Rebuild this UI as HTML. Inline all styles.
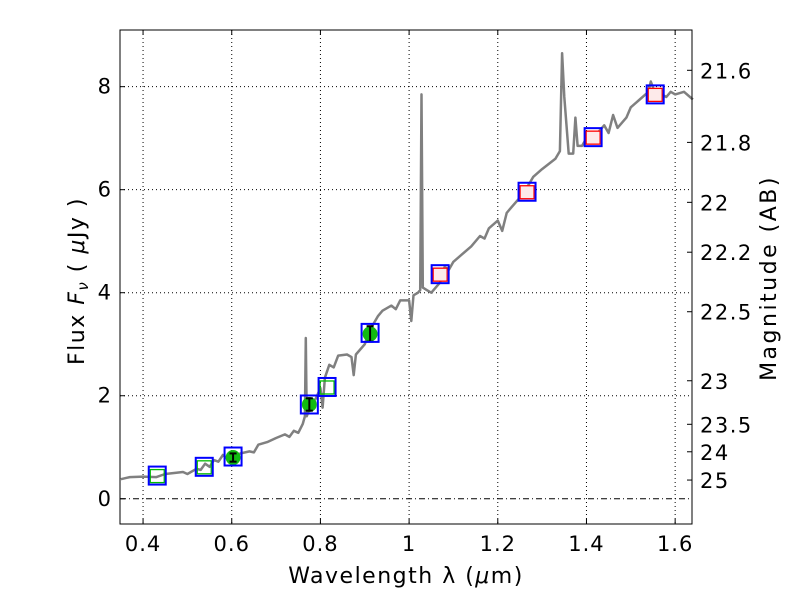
<!DOCTYPE html>
<html><head><meta charset="utf-8"><style>
body{margin:0;background:#fff}
svg text{font-family:"DejaVu Sans","Liberation Sans",sans-serif;fill:#000}
</style></head><body>
<svg id="c" width="800" height="600" xmlns="http://www.w3.org/2000/svg"></svg>
<script>
const specWave=[0.35,0.37,0.40,0.43,0.45,0.47,0.49,0.50,0.52,0.53,0.54,0.55,0.56,0.57,0.58,0.59,0.60,0.62,0.64,0.65,0.66,0.68,0.70,0.72,0.73,0.74,0.75,0.76,0.765,0.767,0.769,0.78,0.79,0.80,0.805,0.81,0.82,0.83,0.84,0.86,0.87,0.875,0.88,0.90,0.91,0.92,0.93,0.94,0.96,0.97,0.98,1.00,1.005,1.01,1.02,1.025,1.028,1.031,1.04,1.05,1.06,1.07,1.08,1.09,1.10,1.12,1.14,1.16,1.17,1.18,1.20,1.21,1.22,1.23,1.25,1.27,1.28,1.30,1.33,1.34,1.345,1.35,1.36,1.37,1.375,1.38,1.39,1.40,1.42,1.44,1.45,1.46,1.47,1.49,1.50,1.52,1.54,1.545,1.56,1.57,1.58,1.59,1.60,1.62,1.64];
const specFlux=[0.38,0.42,0.43,0.42,0.48,0.50,0.52,0.48,0.58,0.56,0.68,0.62,0.75,0.72,0.85,0.78,0.82,0.88,0.92,0.90,1.05,1.10,1.18,1.25,1.20,1.32,1.28,1.45,1.60,3.12,1.60,1.85,1.95,2.15,1.77,2.35,2.60,2.55,2.78,2.80,2.75,2.40,2.80,3.00,3.25,3.40,3.55,3.65,3.75,3.68,3.85,3.85,3.45,3.95,4.00,4.05,7.85,4.10,4.05,4.00,4.10,4.20,4.50,4.45,4.60,4.75,4.90,5.10,5.05,5.25,5.40,5.20,5.55,5.65,5.85,6.10,6.25,6.40,6.60,6.75,8.65,7.80,6.70,6.70,7.40,6.85,6.85,7.00,7.05,7.25,7.10,7.45,7.20,7.40,7.60,7.75,7.90,8.10,7.75,7.85,7.80,7.90,7.85,7.90,7.75];
const photWave=[0.432,0.538,0.603,0.775,0.815,0.912,1.07,1.266,1.415,1.555];
const photFlux=[0.45,0.64,0.80,1.83,2.19,3.20,4.39,5.98,7.05,7.88];
const modelFlux=[0.45,0.62,0.82,1.83,2.17,3.22,4.36,5.96,7.02,7.85];
const obsFlag=[0,0,1,1,0,1,0,0,0,0];
const photErr=[0,0,0.08,0.12,0,0.15,0,0,0,0];
const xTicks=[0.4,0.6,0.8,1,1.2,1.4,1.6];
const xTickLabels=["0.4","0.6","0.8","1","1.2","1.4","1.6"];
const yTicks=[0,2,4,6,8];
const magTicks=[21.6,21.8,22,22.2,22.5,23,23.5,24,25];
const magLabels=["21.6","21.8","22","22.2","22.5","23","23.5","24","25"];

const L=120,R=692,T=30,B=524,x0=0.348,x1=1.638,y0=-0.49,y1=9.1;
const X=v=>L+(v-x0)/(x1-x0)*(R-L);
const Y=v=>B-(v-y0)/(y1-y0)*(B-T);
const svg=document.getElementById('c');
const NS="http://www.w3.org/2000/svg";
function mk(t,a,p){const e=document.createElementNS(NS,t);for(const k in a)e.setAttribute(k,a[k]);(p||svg).appendChild(e);return e;}

xTicks.forEach(v=>{const g=mk('line',{x1:X(v),x2:X(v),y1:T,y2:B,stroke:'#000','stroke-width':1,'stroke-dasharray':'1,3'});

});
yTicks.forEach(v=>{if(v===0)return;const g=mk('line',{x1:L,x2:R,y1:Y(v),y2:Y(v),stroke:'#000','stroke-width':1,'stroke-dasharray':'1,3'});

});
const zl=mk('line',{x1:L,x2:R,y1:Y(0),y2:Y(0),stroke:'#000','stroke-width':1,'stroke-dasharray':'6,3,1,3'});



const pts=specWave.map((w,i)=>X(w).toFixed(1)+','+Y(specFlux[i]).toFixed(1)).join(' ');
const sp=mk('polyline',{points:pts,fill:'none',stroke:'#808080','stroke-width':2.5,'stroke-linejoin':'round'});



photWave.forEach((w,i)=>{
  const cx=X(w),cy=Y(photFlux[i]),my=Y(modelFlux[i]);
  const g=mk('g',{});
  
  
  if(i>=6){mk('rect',{x:cx-7,y:my-6,width:14,height:13,fill:'#fdeaea',stroke:'#f00','stroke-width':1.3},g);}
  else if(!obsFlag[i]){mk('rect',{x:cx-7,y:my-6,width:14,height:13,fill:'none',stroke:'#0b0','stroke-width':1.3},g);}
  else{
    mk('circle',{cx:cx,cy:cy,r:7.5,fill:'#11bb11'},g);
    const e=Math.max(2,(Y(0)-Y(photErr[i])));
    mk('line',{x1:cx,x2:cx,y1:cy-e,y2:cy+e,stroke:'#000','stroke-width':2},g);
    mk('line',{x1:cx-3.5,x2:cx+3.5,y1:cy-e,y2:cy-e,stroke:'#000','stroke-width':2},g);
    mk('line',{x1:cx-3.5,x2:cx+3.5,y1:cy+e,y2:cy+e,stroke:'#000','stroke-width':2},g);
  }
  mk('rect',{x:cx-8.5,y:my-9,width:17,height:18,fill:'none',stroke:'#00f','stroke-width':2},g);
});

const fr=mk('rect',{x:L,y:T,width:R-L,height:B-T,fill:'none',stroke:'#000','stroke-width':1});



xTicks.forEach((v,i)=>{
  mk('line',{x1:X(v),x2:X(v),y1:B,y2:B-5,stroke:'#000'});
  mk('line',{x1:X(v),x2:X(v),y1:T,y2:T+5,stroke:'#000'});
  const t=mk('text',{x:X(v),y:B+27,'text-anchor':'middle','font-size':21,'letter-spacing':1});t.textContent=xTickLabels[i];
  
  
});
yTicks.forEach(v=>{
  mk('line',{x1:L,x2:L+5,y1:Y(v),y2:Y(v),stroke:'#000'});
  const t=mk('text',{x:L-9,y:Y(v)+7,'text-anchor':'end','font-size':21});t.textContent=String(v);
  
  
});
magTicks.forEach((m,i)=>{
  const f=Math.pow(10,(23.9-m)/2.5);const yy=Y(f);
  mk('line',{x1:R,x2:R-5,y1:yy,y2:yy,stroke:'#000'});
  const t=mk('text',{x:R+8,y:yy+8,'font-size':21,'letter-spacing':1.5});t.textContent=magLabels[i];
  
  
});
</script>
<svg width="800" height="600" style="position:absolute;left:0;top:0" xmlns="http://www.w3.org/2000/svg">
<text x="406" y="583" text-anchor="middle" font-size="22" letter-spacing="1.5" font-family="DejaVu Sans, sans-serif">Wavelength  λ (<tspan font-style="italic">μ</tspan>m)</text>
<text transform="translate(84,281) rotate(-90)" text-anchor="middle" font-size="22" letter-spacing="1.5" font-family="DejaVu Sans, sans-serif">Flux  <tspan font-style="italic">F</tspan><tspan font-style="italic" font-size="15" dy="4">ν</tspan><tspan dy="-4">   ( </tspan><tspan font-style="italic">μ</tspan>Jy )</text>
<text transform="translate(776,278) rotate(-90)" text-anchor="middle" font-size="22" letter-spacing="2.5" font-family="DejaVu Sans, sans-serif">Magnitude (AB)</text>
</svg>
</body></html>
